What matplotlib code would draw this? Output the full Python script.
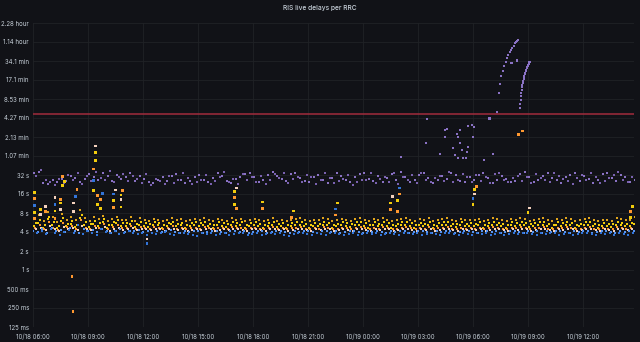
import matplotlib
matplotlib.use("Agg")
import matplotlib.pyplot as plt
import matplotlib.dates as mdates
import numpy as np
import pandas as pd

# ---------------- data ----------------
title = "RIS live delays per RRC"
start = pd.Timestamp("2023-10-18 06:00")
end = pd.Timestamp("2023-10-19 14:47")
step_min = 15
threshold_s = 300

def tenths(s):
    return [int(v) / 10 for v in s.split()]

def secs(s):
    return [int(v) for v in s.split()]

blue_a = tenths("""39 41 37 44 38 36 40 43 38 52 37 41 39 36 44 40 38 42 37 39 41 38 37 38
36 39 37 38 40 37 36 38 39 37 36 35 38 37 39 36 37 38 36 37 39 38 36 37
38 36 37 39 37 38 36 35 37 38 39 37 36 38 37 36 38 39 37 36 37 38 36 37
39 37 38 36 37 38 37 36 38 39 37 38 36 37 38 37 36 39 38 37 36 38 37 36
38 37 39 36 37 38 36 37 38 37 39 38 37 36 38 37 39 38 36 37 38 36 37 39
38 37 36 38 37 39 36 38 37 36 38 37""")
blue_b = tenths("""42 40 45 39 47 41 43 40 46 42 39 44 41 43 40 45 42 39 41 44 40 42 41 43
40 41 39 42 40 41 43 40 39 41 40 42 41 39 40 42 41 40 39 41 42 40 41 39
40 42 41 39 40 41 42 40 39 41 40 42 41 40 39 41 42 40 41 39 40 42 41 40
39 41 40 42 40 39 41 40 42 41 39 40 41 42 40 39 41 40 42 41 39 40 41 42
40 39 41 42 40 41 39 40 42 41 40 39 41 40 42 39 41 40 41 42 40 39 41 40
42 41 39 40 41 42 40 39 41 40 42 41""")
light = tenths("""44 47 43 50 45 42 48 44 46 43 49 45 43 46 44 48 42 45 47 43 44 46 43 45
44 43 45 44 42 44 45 43 44 42 43 44 43 45 44 42 43 44 43 45 44 43 42 44
44 43 42 44 45 43 44 42 43 44 45 43 42 44 43 45 44 42 43 44 43 42 44 45
43 42 44 43 45 44 42 43 44 45 43 42 44 43 45 42 43 44 45 43 42 44 43 44
43 44 42 43 45 44 43 42 44 43 45 44 42 43 44 45 43 42 44 43 45 44 42 43
44 45 43 42 44 43 42 45 44 43 44 42""")
orange = tenths("""46 52 44 58 47 43 55 48 50 45 61 47 45 49 47 53 44 48 51 46 47 49 45 48
46 45 48 47 44 46 49 45 47 44 46 47 45 48 46 44 47 46 45 48 46 47 44 46
47 45 44 46 48 45 47 44 46 47 48 45 44 46 45 48 47 44 45 47 46 44 47 48
46 44 47 45 48 46 44 45 47 48 46 44 47 45 48 44 46 47 48 45 44 47 45 46
45 47 44 46 48 47 45 44 47 46 48 47 44 46 47 48 45 44 47 46 48 47 44 45
47 48 45 44 46 45 44 48 47 45 46 44""")
yellow_a = tenths("""55 62 51 70 58 50 66 54 60 52 74 57 53 59 56 64 51 57 62 55 56 60 53 58
55 53 57 56 52 55 58 54 56 52 55 57 56 58 54 52 57 55 53 58 55 57 52 56
57 54 52 55 58 53 56 52 55 57 58 54 52 55 54 58 56 52 54 57 55 53 57 58
55 52 57 54 58 55 52 54 57 58 55 52 56 54 58 52 55 57 58 54 53 57 54 55
54 57 52 55 58 56 54 52 57 55 58 56 53 55 57 58 54 52 57 55 58 56 52 54
57 58 54 52 55 54 53 58 56 54 55 60""")
yellow_b = tenths("""50 56 47 64 52 46 60 49 54 48 67 51 48 53 50 58 47 52 56 49 50 54 48 52
50 48 52 51 47 50 53 49 51 47 50 52 49 52 50 47 51 49 48 52 50 51 47 50
51 49 47 50 52 48 50 47 49 51 52 49 47 50 49 52 51 47 49 51 50 48 51 52
50 47 51 49 52 50 47 49 51 52 50 47 51 49 52 47 50 51 52 49 48 51 49 50
49 51 47 50 52 51 49 47 51 50 52 51 48 50 51 52 49 47 51 50 52 51 47 49
51 52 49 47 50 49 48 52 51 49 50 53""")
yellow_c = tenths("""64 75 60 82 68 58 78 62 70 61 88 66 60 68 64 72 59 65 70 62 63 69 60 66
62 60 65 63 59 62 66 61 64 59 62 65 63 66 61 59 64 62 60 66 62 64 59 63
65 61 59 62 66 60 63 59 62 65 66 61 59 62 61 66 64 59 61 65 62 60 65 66
62 59 65 61 66 63 59 61 65 66 62 59 64 61 66 59 62 65 66 61 60 65 61 63
61 65 59 62 66 64 61 59 65 62 66 64 60 62 65 66 61 59 65 62 66 64 59 61
65 66 61 59 62 61 60 66 64 61 62 68""")
purple_a = secs("""34 36 24 23 27 25 28 26 31 29 25 28 33 30 27 35 31 26 32 28 30 34 26 31
28 25 24 27 30 26 31 33 27 24 26 30 32 27 25 29 34 31 26 24 28 30 33 35
30 25 27 32 36 31 28 26 33 35 29 26 25 30 32 27 24 29 34 31 27 25 30 33
35 28 26 31 25 29 33 27 36 30 25 27 32 34 29 24 27 31 28 35 32 26 25 30
27 32 35 29 24 27 31 28 25 26 33 36 30 25 27 31 34 29 27 24 30 32 35 26
31 28 24 27 33 35 29 26 32 30 25 27""")
purple_b = secs("""31 38 27 25 22 28 24 32 27 34 23 31 26 36 29 27 37 25 30 33 26 31 28 24
33 22 28 26 23 31 24 27 34 29 23 25 27 32 23 26 30 36 25 28 23 33 27 30
25 31 23 27 33 29 34 24 28 30 25 32 30 23 27 35 29 24 26 28 32 22 25 27
27 34 24 28 30 25 35 23 30 27 32 24 34 27 25 29 31 26 36 25 27 33 30 25
32 26 30 24 33 35 27 25 29 31 26 30 24 33 29 27 25 34 31 28 26 23 29 32
27 35 30 24 26 29 32 36 27 25 30 24""")

# spike columns and outliers: hours since start, value (s), colour key
spike_h = [0.1, 0.1, 0.1, 0.1, 0.1, 0.4, 0.4, 0.7, 0.7, 1.2, 1.2, 1.2, 1.2,
           1.5, 1.5, 1.5, 1.6, 1.6, 1.7, 2.2, 2.2, 2.3, 2.4, 3.3, 3.3, 3.3,
           3.4, 3.4, 3.4, 3.5, 3.5, 3.7, 3.7, 3.8, 4.4, 4.4, 4.4, 4.5, 4.8,
           4.8, 4.8, 4.9, 2.13, 2.18, 6.22, 6.22, 11.0, 11.0, 11.0, 11.1,
           11.1, 12.5, 12.5, 14.1, 14.2, 16.5, 16.5, 16.6, 19.5, 19.5, 19.6,
           19.9, 19.9, 20.0, 20.0, 24.0, 24.0, 24.1, 24.1, 24.2, 27.0, 27.1,
           32.6, 32.6, 32.7]
spike_v = [6.5, 8.2, 10.5, 13.5, 17.0, 7.5, 9.0, 8.4, 10.2, 6.6, 8.6, 11.0,
           14.0, 9.0, 11.5, 13.0, 22.0, 30.0, 25.0, 8.5, 11.5, 14.5, 19.0,
           18.0, 26.0, 40.0, 55.0, 72.0, 92.0, 11.0, 15.0, 9.5, 13.0, 16.5,
           9.8, 12.5, 16.0, 18.5, 10.0, 13.0, 15.5, 18.0, 0.78, 0.22, 2.6,
           3.1, 11.0, 14.0, 17.5, 9.5, 20.0, 9.5, 12.0, 6.8, 8.6, 7.4, 9.3,
           11.5, 9.0, 11.5, 14.5, 8.5, 12.5, 16.0, 20.0, 11.0, 13.5, 16.0,
           19.0, 21.0, 8.2, 9.6, 6.8, 8.5, 10.2]
spike_c = list("oyboylyoloybllyoyoyllboyboyylyoyoboyblylyoooblyoyoloyoyobyoyloyobyblyoylyoy")[:len(spike_v)]

purple_x_h = [21.49, 21.44, 22.47, 22.58, 23.29, 23.73, 23.95, 24.05, 23.18,
              22.47, 23.13, 23.29, 24.0, 23.18, 23.45, 23.62, 23.02, 22.2,
              23.7, 23.75, 23.4, 20.1, 22.9, 24.6, 25.1]
purple_x_v = [247, 102, 165, 170, 165, 191, 198, 185, 128, 128, 145, 102,
              128, 59, 59, 59, 66, 68, 75, 90, 80, 62, 86, 56, 70]

arc1_h = [25.31, 25.40, 25.47, 25.55, 25.62, 25.70, 25.78, 25.85, 25.93,
          26.00, 26.08, 26.15, 26.22, 26.30, 26.36, 26.42, 26.46]
arc1_v = [320, 640, 900, 1180, 1440, 1720, 2010, 2260, 2550, 2800, 3090,
          3340, 3600, 3880, 4100, 4320, 4460]
arc2_h = [26.56, 26.58, 26.60, 26.62, 26.64, 26.66, 26.68, 26.70, 26.72, 26.74,
          26.76, 26.78, 26.80, 26.83, 26.85, 26.88, 26.90, 26.93, 26.95, 26.98,
          27.00, 27.03, 27.05, 27.08, 27.11]
arc2_v = [370, 430, 500, 570, 640, 710, 780, 850, 920, 990, 1060, 1120, 1190,
          1270, 1340, 1420, 1500, 1570, 1650, 1720, 1790, 1850, 1900, 1950, 2000]
arc_extra_h = [26.1, 26.4, 26.7, 26.5, 24.9]
arc_extra_v = [1900, 2100, 160, 140, 250]
arc_extra_c = ["p", "p", "o", "o", "p"]

# ---------------- style ----------------
BG = "#111217"
GRID = "#202226"
TXT = "#c7d0d9"
FONT = ["Inter", "DejaVu Sans"]
colors = {"b": "#3274d9", "B": "#5794f2", "l": "#f4d1bd", "o": "#ff9830",
          "y": "#f2cc0c", "Y": "#e0a41c", "p": "#8a72c4", "P": "#7a62b0"}

fig = plt.figure(figsize=(6.4, 3.42), dpi=100, facecolor=BG)
ax = fig.add_axes([33 / 640, 15 / 342, 601 / 640, 304 / 342], facecolor=BG)

def times(n, offset_min):
    return [start + pd.Timedelta(minutes=i * step_min + offset_min) for i in range(n)]

def hrs(hlist):
    return [start + pd.Timedelta(hours=h) for h in hlist]

MS = 3.8
series = [(yellow_c, "Y", 5), (yellow_a, "y", 9), (yellow_b, "y", 3),
          (orange, "o", 7), (light, "l", 11), (blue_b, "B", 1),
          (blue_a, "b", 13), (purple_a, "p", 4), (purple_b, "P", 11)]
for vals, ck, off in series:
    ax.scatter(times(len(vals), off), vals, s=MS, marker="s", c=colors[ck],
               linewidths=0, zorder=3)

ax.scatter(hrs(spike_h), spike_v, s=MS, marker="s",
           c=[colors[c] for c in spike_c], linewidths=0, zorder=3)
ax.scatter(hrs(purple_x_h), purple_x_v, s=MS, marker="s", c=colors["p"],
           linewidths=0, zorder=3)
ax.scatter(hrs(arc1_h), arc1_v, s=MS, marker="s", c=colors["p"], linewidths=0, zorder=3)
ax.scatter(hrs(arc2_h), arc2_v, s=MS, marker="s", c=colors["p"], linewidths=0, zorder=3)
ax.scatter(hrs(arc_extra_h), arc_extra_v, s=MS, marker="s",
           c=[colors[c] for c in arc_extra_c], linewidths=0, zorder=3)

ax.axhline(threshold_s, color="#a12b3c", lw=1.1, zorder=4)

ax.set_yscale("log", base=2)
ax.set_ylim(0.125, 8192)
ax.set_xlim(start, end)

ytick_vals = [0.125, 0.25, 0.5, 1, 2, 4, 8, 16, 32, 64, 128, 256, 512, 1024, 2048, 4096, 8192]
ytick_labels = ["125 ms", "250 ms", "500 ms", "1 s", "2 s", "4 s", "8 s", "16 s", "32 s",
                "1.07 min", "2.13 min", "4.27 min", "8.53 min", "17.1 min", "34.1 min",
                "1.14 hour", "2.28 hour"]
ax.set_yticks(ytick_vals)
ax.set_yticklabels(ytick_labels)
ax.yaxis.set_minor_locator(matplotlib.ticker.NullLocator())

ax.xaxis.set_major_locator(mdates.HourLocator(byhour=range(0, 24, 3)))
ax.xaxis.set_major_formatter(mdates.DateFormatter("%m/%d %H:%M"))

for sp in ax.spines.values():
    sp.set_visible(False)
ax.tick_params(axis="both", length=0, colors=TXT, labelsize=4.4)
ax.tick_params(axis="y", pad=2.9)
ax.tick_params(axis="x", pad=4.5)
for lab in ax.get_xticklabels() + ax.get_yticklabels():
    lab.set_family(FONT)
ax.grid(True, color=GRID, lw=0.6, zorder=0)

fig.text(0.5, 1 - 8 / 342, title, ha="center", va="center", color=TXT,
         fontsize=4.8, fontweight="medium", family=FONT)

fig.savefig("out.png", dpi=100, facecolor=BG)
